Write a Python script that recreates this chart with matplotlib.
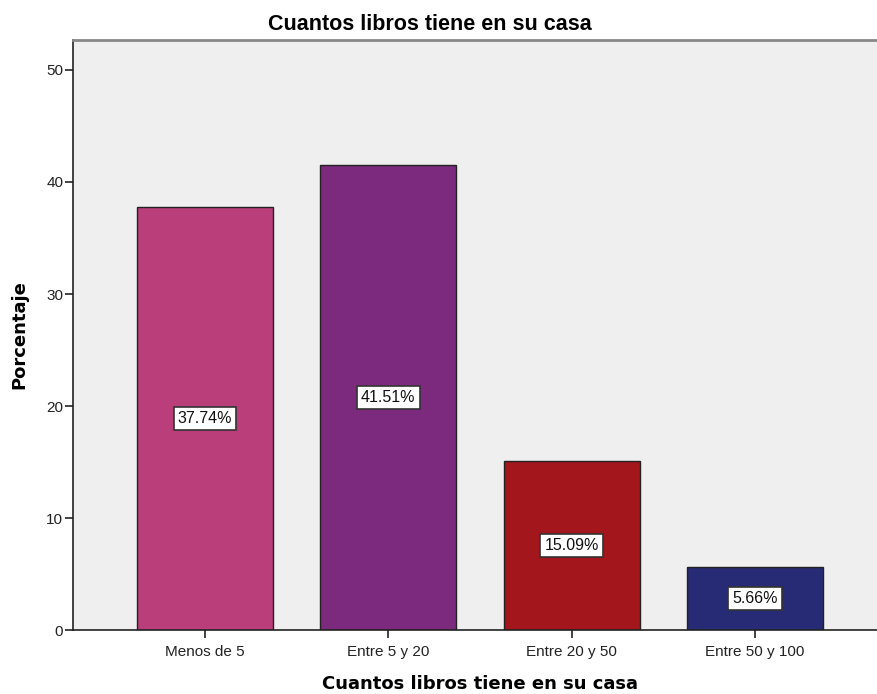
import numpy as np
import matplotlib
matplotlib.use("Agg")
import matplotlib.pyplot as plt

plt.rcParams['font.family'] = ['Liberation Sans', 'DejaVu Sans']

categorias = ["Menos de 5", "Entre 5 y 20", "Entre 20 y 50", "Entre 50 y 100"]
porcentajes = [37.74, 41.51, 15.09, 5.66]
colores = ["#BA3E7A", "#7B2A7E", "#A2161C", "#272A74"]
titulo = "Cuantos libros tiene en su casa"

fig = plt.figure(figsize=(8.77, 6.94), dpi=100)
ax = fig.add_axes([0.0832, 0.0922, 0.9168, 0.8502])
ax.set_facecolor("#EFEFEF")

x = np.arange(len(categorias))
bars = ax.bar(x, porcentajes, width=0.742, color=colores,
              edgecolor="#222222", linewidth=1.0, zorder=2)

# etiquetas de porcentaje en el centro de cada barra
for xi, val in zip(x, porcentajes):
    ax.text(xi, val / 2.0, "%.2f%%" % val, ha="center", va="center",
            fontsize=11.5, color="#111111", zorder=3,
            bbox=dict(boxstyle="square,pad=0.25", facecolor="white",
                      edgecolor="#333333", linewidth=1.2))

ax.set_xlim(-0.72, 3.666)
ax.set_ylim(0, 52.68)
ax.set_yticks([0, 10, 20, 30, 40, 50])
ax.set_xticks(x)
ax.set_xticklabels(categorias)
ax.tick_params(axis="both", direction="out", length=6, width=1.2,
               color="#222222", labelsize=11, labelcolor="#222222")
ax.tick_params(axis="y", pad=1)
ax.tick_params(axis="x", pad=5)

for lado in ["left", "bottom"]:
    ax.spines[lado].set_color("#222222")
    ax.spines[lado].set_linewidth(1.2)
ax.spines["top"].set_color("#888888")
ax.spines["top"].set_linewidth(2.0)
ax.spines["right"].set_visible(False)

ax.set_ylabel("Porcentaje", fontsize=13, fontweight="bold",
              family="DejaVu Sans", labelpad=13)
fig.text(0.5468, 0.0072, titulo, ha="center", va="baseline",
         fontsize=13, fontweight="bold", family="DejaVu Sans")
fig.text(0.49, 0.9568, titulo, ha="center", va="baseline",
         fontsize=15.5, fontweight="bold")

fig.savefig("out.png", dpi=100)
